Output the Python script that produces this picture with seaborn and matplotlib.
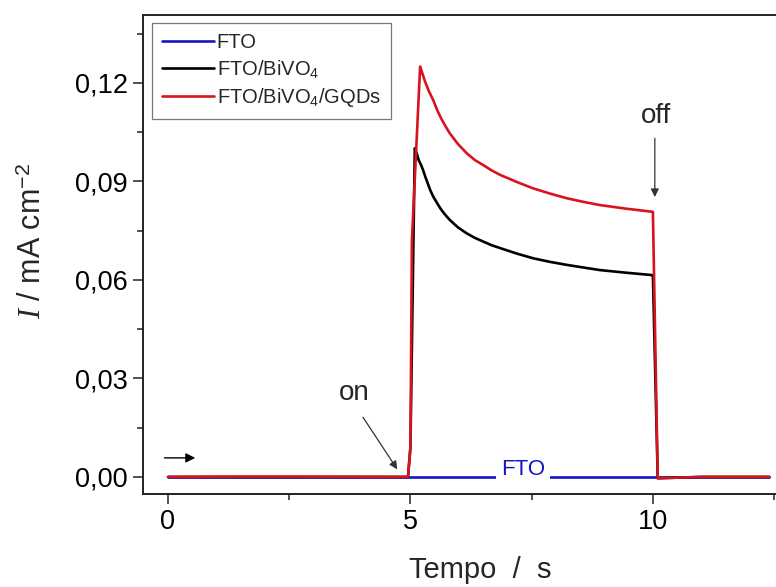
import matplotlib
matplotlib.use("Agg")
import matplotlib.pyplot as plt
import seaborn as sns
import pandas as pd
from matplotlib.ticker import FixedLocator, FuncFormatter

# ---------------- data ----------------
t_fto = [0.0, 5.0, 10.0, 12.4]
i_fto = [0.0, 0.0, 0.0, 0.0]

t_bivo4 = [0.0, 2.5, 4.95, 5.0, 5.09, 5.13, 5.17, 5.22, 5.26, 5.31, 5.36, 5.41, 5.47, 5.55,
           5.63, 5.72, 5.81, 5.98, 6.16, 6.33, 6.5, 6.67, 6.85, 7.2, 7.53, 7.88, 8.22, 8.56,
           8.91, 9.45, 9.97, 10.0, 10.1, 11.0, 12.4]
i_bivo4 = [0.0, 0.0, 0.0, 0.009, 0.1001, 0.0985, 0.0965, 0.0950, 0.0935, 0.0913, 0.0893,
           0.0873, 0.0854, 0.0834, 0.0815, 0.0798, 0.0783, 0.0760, 0.0742, 0.0728, 0.0717,
           0.0706, 0.0697, 0.0680, 0.0666, 0.0655, 0.0646, 0.0638, 0.0630, 0.0622, 0.0615,
           0.0614, -0.0004, 0.0, 0.0]

t_gqds = [0.0, 1.5, 2.5, 4.95, 5.0, 5.03, 5.2, 5.3, 5.38, 5.47, 5.55, 5.63, 5.72, 5.81,
          5.98, 6.16, 6.33, 6.5, 6.67, 6.85, 7.2, 7.53, 7.88, 8.22, 8.56, 8.91, 9.45, 9.97,
          10.0, 10.1, 11.0, 12.4]
i_gqds = [0.0, 0.0001, 0.0001, 0.0, 0.009, 0.072, 0.125, 0.1205, 0.1175, 0.1148, 0.1118,
          0.1093, 0.1069, 0.1047, 0.1014, 0.0986, 0.0965, 0.0950, 0.0934, 0.0920, 0.0898,
          0.0879, 0.0863, 0.0849, 0.0838, 0.0828, 0.0817, 0.0808, 0.0807, -0.0004, 0.0, 0.0]

series_names = ["FTO", r"FTO/BiVO$_4$", r"FTO/BiVO$_4$/GQDs"]
series_colors = ["#1414c8", "#000000", "#d7141e"]

x_major = [0, 5, 10]
x_minor = [2.5, 7.5, 12.5]
y_major = [0.0, 0.03, 0.06, 0.09, 0.12]
y_minor = [0.015, 0.045, 0.075, 0.105, 0.135]

# ---------------- style ----------------
sns.set_style("white")
plt.rcParams["font.family"] = ["Liberation Sans", "DejaVu Sans"]
plt.rcParams["mathtext.fontset"] = "custom"
plt.rcParams["mathtext.rm"] = "Liberation Sans"
plt.rcParams["mathtext.it"] = "Liberation Serif:italic"
plt.rcParams["mathtext.bf"] = "Liberation Sans:bold"

fig = plt.figure(figsize=(7.76, 5.87), dpi=100)
W, H = 776, 587
left, right, top, bottom = 143, 778, 15, 494
ax = fig.add_axes([left / W, 1 - bottom / H, (right - left) / W, (bottom - top) / H])

for (tt, ii), name, col in zip([(t_fto, i_fto), (t_bivo4, i_bivo4), (t_gqds, i_gqds)],
                               series_names, series_colors):
    df = pd.DataFrame({"t": tt, "i": ii})
    sns.lineplot(data=df, x="t", y="i", ax=ax, color=col, label=name,
                 estimator=None, sort=False, linewidth=1.9)

ax.set_xlim(-0.515, 12.58)
ax.set_ylim(-0.0052, 0.1407)

ax.xaxis.set_major_locator(FixedLocator(x_major))
ax.xaxis.set_minor_locator(FixedLocator(x_minor))
ax.yaxis.set_major_locator(FixedLocator(y_major))
ax.yaxis.set_minor_locator(FixedLocator(y_minor))
ax.xaxis.set_major_formatter(FuncFormatter(lambda v, p: f"{v:g}"))
ax.yaxis.set_major_formatter(FuncFormatter(lambda v, p: f"{v:.2f}".replace(".", ",")))

ax.tick_params(axis="both", which="major", direction="out", length=7, width=1.1,
               labelsize=19.5, pad=4, colors="#222222", labelcolor="black",
               bottom=True, left=True, top=False, right=False)
ax.tick_params(axis="both", which="minor", direction="out", length=4, width=1.1,
               bottom=True, left=True, top=False, right=False, colors="#222222")

for s in ["left", "bottom", "top"]:
    ax.spines[s].set_color("#222222")
    ax.spines[s].set_linewidth(1.4)
ax.spines["right"].set_visible(False)

ax.set_xlabel("Tempo  /  s", fontsize=21)
ax.set_ylabel(r"$\mathit{I}$ / mA cm$^{-2}$", fontsize=22)
ax.xaxis.set_label_coords((480 - left) / (right - left), -(570 - bottom) / (bottom - top), transform=ax.transAxes)
ax.xaxis.label.set_verticalalignment("center")
ax.yaxis.set_label_coords(-(143 - 33) / (right - left), (bottom - 241) / (bottom - top))
ax.yaxis.label.set_verticalalignment("center")

leg = ax.legend(loc="upper left", bbox_to_anchor=((152 - left) / (right - left), (bottom - 23) / (bottom - top)),
                borderaxespad=0, fontsize=14.5, frameon=True, fancybox=False,
                edgecolor="#777777", framealpha=1, handlelength=2.6, handletextpad=0.12,
                labelspacing=0.3, borderpad=0.5)
leg.get_frame().set_linewidth(0.9)

# annotations
ax.annotate("", xy=(0.62, 0.0058), xytext=(-0.13, 0.0058),
            arrowprops=dict(arrowstyle="-|>", color="black", lw=1.0, mutation_scale=14))
ax.text(3.85, 0.0255, "on", fontsize=20, ha="center", va="center")
ax.annotate("", xy=(4.76, 0.0016), xytext=(3.99, 0.0189),
            arrowprops=dict(arrowstyle="-|>", color="#333333", lw=0.9, mutation_scale=12))
ax.text(10.07, 0.110, "off", fontsize=20, ha="center", va="center")
ax.annotate("", xy=(10.04, 0.0844), xytext=(10.04, 0.104),
            arrowprops=dict(arrowstyle="-|>", color="#333333", lw=0.9, mutation_scale=12))
ax.text(7.32, 0.0022, "FTO", fontsize=16, color="#1414c8", ha="center", va="center",
        bbox=dict(facecolor="white", edgecolor="none", pad=3.5))

fig.savefig("out.png", dpi=100)
